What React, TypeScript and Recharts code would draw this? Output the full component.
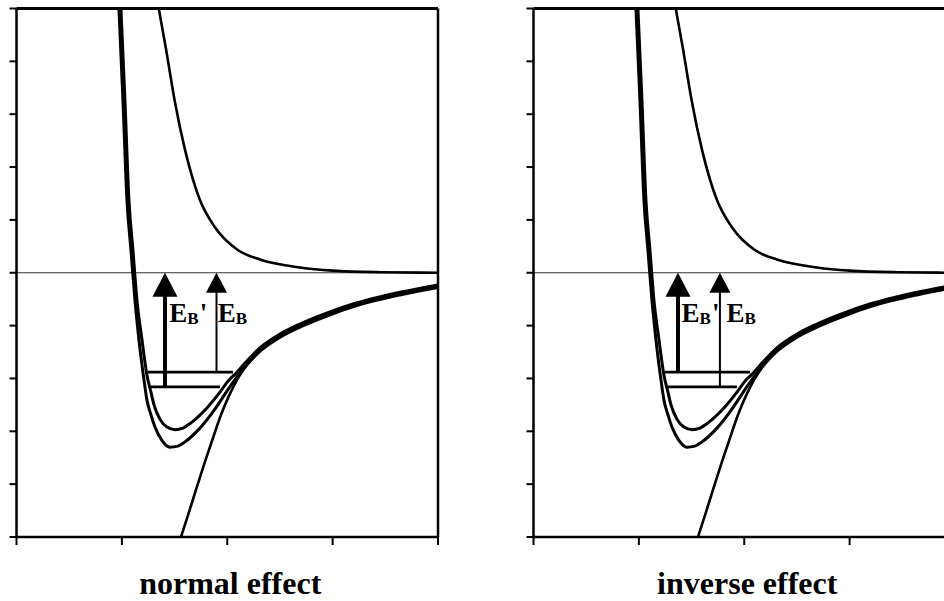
import React from 'react';
import { ComposedChart, Line, Scatter, XAxis, YAxis, ReferenceLine, Label } from 'recharts';

// x = reaction coordinate (arbitrary units), y = energy, 0 = dissociation limit
const xTicks = [0, 1, 2, 3, 4];
const yTicks = [-5, -4, -3, -2, -1, 0, 1, 2, 3, 4, 5];

// repulsive (upper) curve
const repX = [1.35, 1.42, 1.5, 1.6, 1.74, 1.88, 2.1, 2.31, 2.69, 3.0, 3.45, 4.0];
const repY = [5.0, 4.22, 3.27, 2.32, 1.38, 0.87, 0.43, 0.25, 0.1, 0.04, 0.01, 0.0];

// shallower well
const wellAX = [0.991, 1.029, 1.067, 1.105, 1.143, 1.191, 1.238, 1.276, 1.305, 1.361, 1.428, 1.504, 1.58, 1.656, 1.807, 1.931, 2.007, 2.083, 2.177, 2.31, 2.5, 2.69, 2.974, 3.164, 3.639, 3.999];
const wellAY = [5.0, 3.27, 1.38, 0.43, -0.52, -1.27, -1.94, -2.26, -2.5, -2.77, -2.92, -2.97, -2.94, -2.84, -2.56, -2.26, -2.05, -1.9, -1.69, -1.42, -1.16, -0.97, -0.74, -0.61, -0.37, -0.23];

// deeper well
const wellBX = [0.972, 1.01, 1.048, 1.086, 1.124, 1.162, 1.21, 1.238, 1.276, 1.314, 1.38, 1.456, 1.532, 1.599, 1.741, 1.883, 1.997, 2.092, 2.187, 2.32, 2.509, 2.699, 2.984, 3.174, 3.649, 3.999];
const wellBY = [5.0, 3.27, 1.38, 0.43, -0.52, -1.27, -2.03, -2.41, -2.69, -2.92, -3.17, -3.3, -3.28, -3.2, -2.94, -2.58, -2.24, -1.97, -1.74, -1.47, -1.21, -1.02, -0.79, -0.655, -0.415, -0.28];

// long-range attractive curve
const attrX = [1.561, 1.637, 1.712, 1.788, 1.864, 1.94, 2.016, 2.092, 2.187, 2.31, 2.5, 2.69, 2.974, 3.164, 3.639, 3.999];
const attrY = [-5.0, -4.53, -4.05, -3.58, -3.13, -2.69, -2.33, -2.03, -1.74, -1.445, -1.185, -0.995, -0.765, -0.635, -0.39, -0.255];

// energy levels
const upperLevel = -1.88;
const lowerLevel = -2.16;
const upperLevelX = [1.248, 2.054];
const lowerLevelX = [1.276, 1.931];

// per panel: [normal, inverse]
const titles = ['normal effect', 'inverse effect'];
const thickArrowX = [1.409, 1.371];
const thickArrowFrom = [lowerLevel, upperLevel];
const thinArrowX = [1.898, 1.769];
const thinArrowFrom = [upperLevel, lowerLevel];
const primeLabelX = [1.45, 1.405];
const plainLabelX = [1.91, 1.832];
const labelY = -0.93;
const arrowShaftTop = -0.3;

const zip = (xs: number[], ys: number[]) => xs.map((x, i) => ({ x, y: ys[i] }));

const serif = '"Liberation Serif", "Times New Roman", serif';

const EmptyTick = () => <g />;

const Head = (w: number, h: number) => (props: any) => {
  const { cx, cy } = props;
  return <polygon points={`${cx},${cy} ${cx - w / 2},${cy + h} ${cx + w / 2},${cy + h}`} fill="#000" />;
};

const EbLabel = (prime: boolean) => (props: any) => {
  const { cx, cy } = props;
  return (
    <text x={cx} y={cy} fontFamily={serif} fontWeight="bold" fontSize={27} fill="#000">
      <tspan>E</tspan>
      <tspan fontSize={17} dy={2}>B</tspan>
      {prime && <tspan dx={1} dy={-2}>'</tspan>}
    </text>
  );
};

function Panel({ i }: { i: number }) {
  const thickShaft = [{ x: thickArrowX[i], y: thickArrowFrom[i] }, { x: thickArrowX[i], y: arrowShaftTop }];
  const thinShaft = [{ x: thinArrowX[i], y: thinArrowFrom[i] }, { x: thinArrowX[i], y: arrowShaftTop }];
  const upper = upperLevelX.map((x) => ({ x, y: upperLevel }));
  const lower = lowerLevelX.map((x) => ({ x, y: lowerLevel }));

  return (
    <ComposedChart width={450} height={601} margin={{ top: 8.5, right: 12, bottom: 0, left: 6.5 }}>
      <XAxis
        type="number"
        dataKey="x"
        domain={[0, 4]}
        ticks={xTicks}
        tick={EmptyTick}
        tickSize={8}
        height={64}
        axisLine={{ stroke: '#000', strokeWidth: 2.5 }}
        tickLine={{ stroke: '#000', strokeWidth: 2 }}
      >
        <Label
          value={titles[i]}
          position="insideBottom"
          offset={7}
          dx={3}
          style={{ fontFamily: serif, fontWeight: 'bold', fontSize: 32, fill: '#000' }}
        />
      </XAxis>
      <YAxis
        type="number"
        dataKey="y"
        domain={[-5, 5]}
        ticks={yTicks}
        tick={EmptyTick}
        tickSize={7}
        width={10}
        axisLine={{ stroke: '#000', strokeWidth: 2.5 }}
        tickLine={{ stroke: '#000', strokeWidth: 2 }}
      />
      <ReferenceLine y={5} stroke="#000" strokeWidth={3} />
      <ReferenceLine x={4} stroke="#000" strokeWidth={2.5} />
      <ReferenceLine y={0} stroke="#333" strokeWidth={1.2} />

      <Line data={zip(repX, repY)} dataKey="y" type="monotone" stroke="#000" strokeWidth={2.6} dot={false} activeDot={false} isAnimationActive={false} />
      <Line data={zip(wellAX, wellAY)} dataKey="y" type="monotone" stroke="#000" strokeWidth={3} dot={false} activeDot={false} isAnimationActive={false} />
      <Line data={zip(wellBX, wellBY)} dataKey="y" type="monotone" stroke="#000" strokeWidth={3} dot={false} activeDot={false} isAnimationActive={false} />
      <Line data={zip(attrX, attrY)} dataKey="y" type="monotone" stroke="#000" strokeWidth={2.6} dot={false} activeDot={false} isAnimationActive={false} />

      <Line data={upper} dataKey="y" type="linear" stroke="#000" strokeWidth={2.6} dot={false} activeDot={false} isAnimationActive={false} />
      <Line data={lower} dataKey="y" type="linear" stroke="#000" strokeWidth={2.6} dot={false} activeDot={false} isAnimationActive={false} />

      <Line data={thickShaft} dataKey="y" type="linear" stroke="#000" strokeWidth={4} dot={false} activeDot={false} isAnimationActive={false} />
      <Line data={thinShaft} dataKey="y" type="linear" stroke="#000" strokeWidth={2} dot={false} activeDot={false} isAnimationActive={false} />
      <Scatter data={[{ x: thickArrowX[i], y: 0 }]} dataKey="y" shape={Head(25, 24)} isAnimationActive={false} />
      <Scatter data={[{ x: thinArrowX[i], y: 0 }]} dataKey="y" shape={Head(21, 20)} isAnimationActive={false} />

      <Scatter data={[{ x: primeLabelX[i], y: labelY }]} dataKey="y" shape={EbLabel(true)} isAnimationActive={false} />
      <Scatter data={[{ x: plainLabelX[i], y: labelY }]} dataKey="y" shape={EbLabel(false)} isAnimationActive={false} />
    </ComposedChart>
  );
}

export default function App() {
  return (
    <div style={{ position: 'fixed', left: 0, top: 0, width: 944, height: 601, overflow: 'hidden', background: '#fff' }}>
      <div style={{ position: 'absolute', left: 0, top: 0 }}>
        <Panel i={0} />
      </div>
      <div style={{ position: 'absolute', left: 517, top: 0 }}>
        <Panel i={1} />
      </div>
    </div>
  );
}
